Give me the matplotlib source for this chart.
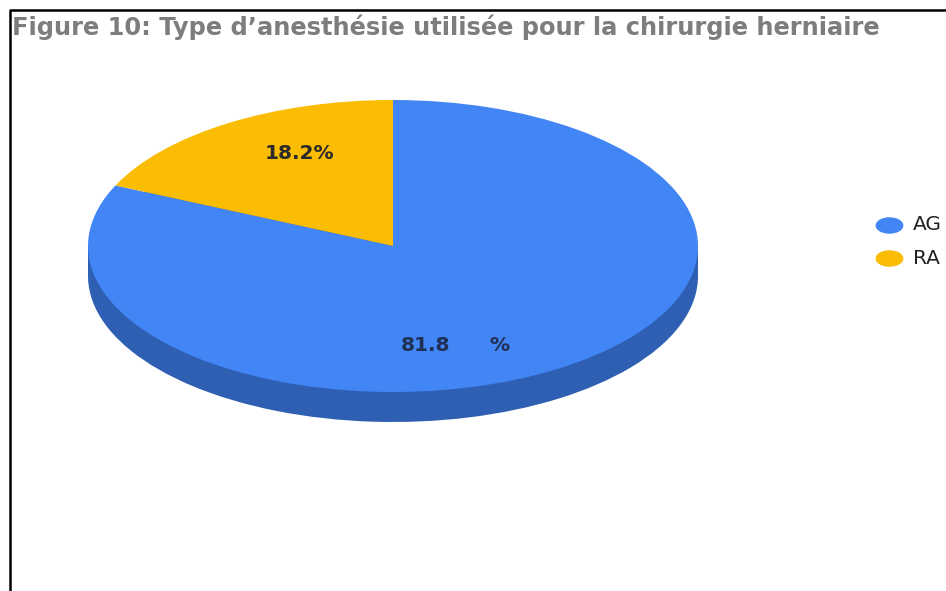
import matplotlib
matplotlib.use("Agg")
import matplotlib.pyplot as plt
from matplotlib.path import Path
from matplotlib.transforms import Affine2D

plt.rcParams["font.family"] = ["DejaVu Sans"]

# data
title = "Figure 10: Type d\u2019anesthésie utilisée pour la chirurgie herniaire"
categories = ["AG", "RA"]
values = [81.8, 18.2]
colors = ["#4285F4", "#FBBC04"]
side_colors = ["#2F5FB3", "#2F5FB3"]

W, H = 946, 591
fig = plt.figure(figsize=(W / 100, H / 100), dpi=100)

# overlay axes in pixel coordinates (border, title, legend)
bg = fig.add_axes([0, 0, 1, 1])
bg.set_xlim(0, W)
bg.set_ylim(H, 0)
bg.axis("off")
bg.plot([9.5, 9.5, W], [H, 9.5, 9.5], color="black", lw=1.8, solid_capstyle="butt")
bg.text(12, 27, title, fontsize=17.4, fontweight="bold", color="#7D7D7D",
        ha="left", va="center")

# legend (the reference is stretched sideways, so the dots are ellipses)
dot = Path.unit_circle().transformed(Affine2D().scale(1.75, 1.0))
for i, (cat, c) in enumerate(zip(categories, colors)):
    y = 225 + i * 33
    bg.plot(889, y, marker=dot, markersize=19, color=c, linestyle="none")
    bg.text(913, y, cat, fontsize=14.5, color="#222222", ha="left", va="center")

# pie axes: top face occupies x 88..698, y 100..392, side depth 30 px
left, right, top, face_bottom, depth = 88, 698, 100, 392, 30
ax = fig.add_axes([left / W, (H - face_bottom - depth) / H,
                   (right - left) / W, (face_bottom - top + depth) / H])
d = 2 * depth / (face_bottom - top)

# 3D side: same pie shifted down, darker, plus band
ax.pie(values, colors=side_colors, startangle=90, counterclock=False,
       center=(0, -d), radius=1, wedgeprops=dict(linewidth=0))
ax.add_patch(plt.Rectangle((-1, -d), 2, d, color=side_colors[0], lw=0))
# top face
wedges, _ = ax.pie(values, colors=colors, startangle=90, counterclock=False,
                   radius=1, wedgeprops=dict(linewidth=0))
for w in wedges:
    w.set_zorder(3)

ax.set_aspect("auto")
ax.set_xlim(-1, 1)
ax.set_ylim(-1 - d, 1)

ax.text(0.105, -0.68, f"{values[0]:.1f}", fontsize=14.5, fontweight="bold",
        color="#1F2F55", ha="center", va="center", zorder=5)
ax.text(0.35, -0.68, "%", fontsize=14.5, fontweight="bold",
        color="#1F2F55", ha="center", va="center", zorder=5)
ax.text(-0.305, 0.635, f"{values[1]:.1f}%", fontsize=14.5, fontweight="bold",
        color="#2A2A2A", ha="center", va="center", zorder=5)

fig.savefig("out.png", dpi=100)
